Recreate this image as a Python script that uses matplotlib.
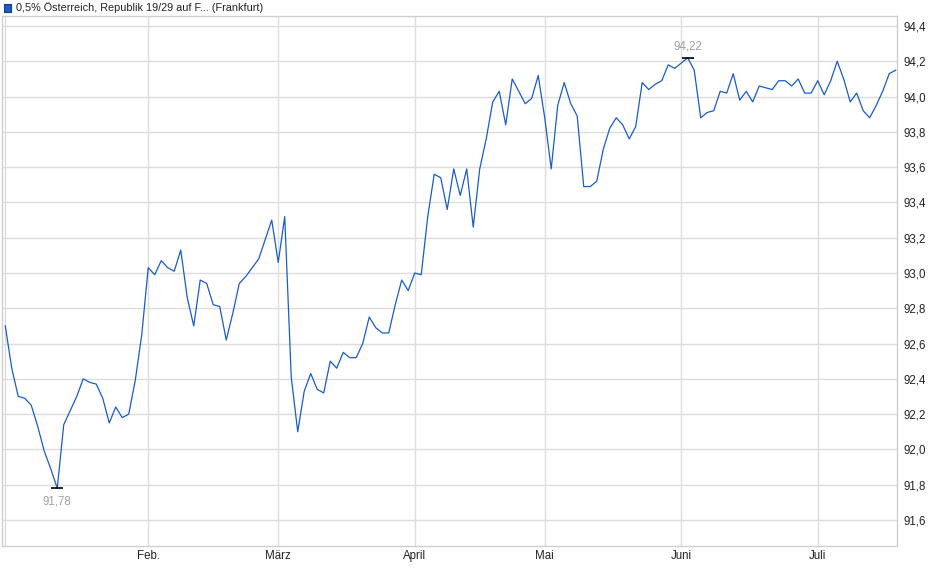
import numpy as np
import matplotlib
matplotlib.use("Agg")
import matplotlib.pyplot as plt
from matplotlib.ticker import FuncFormatter, FixedLocator

plt.rcParams['font.family'] = ['Liberation Sans', 'DejaVu Sans']

title = "0,5% Österreich, Republik 19/29 auf F... (Frankfurt)"

# closing prices per trading day, Jan - Jul
jan = [92.70, 92.46, 92.30, 92.29, 92.25, 92.13, 91.99, 91.89, 91.78, 92.14, 92.22,
       92.30, 92.40, 92.38, 92.37, 92.29, 92.15, 92.24, 92.18, 92.20, 92.39, 92.65]
feb = [93.03, 92.99, 93.07, 93.03, 93.01, 93.13, 92.86, 92.70, 92.96, 92.94,
       92.82, 92.81, 92.62, 92.77, 92.94, 92.98, 93.03, 93.08, 93.19, 93.30]
mar = [93.06, 93.32, 92.41, 92.10, 92.33, 92.43, 92.34, 92.32, 92.50, 92.46, 92.55,
       92.52, 92.52, 92.60, 92.75, 92.69, 92.66, 92.66, 92.82, 92.96, 92.90]
apr = [93.00, 92.99, 93.32, 93.56, 93.54, 93.36, 93.59, 93.44, 93.59, 93.26,
       93.59, 93.76, 93.97, 94.03, 93.84, 94.10, 94.03, 93.96, 93.99, 94.12]
may = [93.88, 93.59, 93.95, 94.08, 93.96, 93.89, 93.49, 93.49, 93.52, 93.70, 93.82,
       93.88, 93.84, 93.76, 93.83, 94.08, 94.04, 94.07, 94.09, 94.18, 94.16]
jun = [94.19, 94.22, 94.15, 93.88, 93.91, 93.92, 94.03, 94.02, 94.13, 93.98, 94.03,
       93.97, 94.06, 94.05, 94.04, 94.09, 94.09, 94.06, 94.10, 94.02, 94.02]
jul = [94.09, 94.01, 94.09, 94.20, 94.10, 93.97, 94.02, 93.92, 93.88, 93.95,
       94.03, 94.13, 94.15]

months = [jan, feb, mar, apr, may, jun, jul]
month_labels = ["", "Feb.", "März", "April", "Mai", "Juni", "Juli"]
y_ticks = [91.6, 91.8, 92.0, 92.2, 92.4, 92.6, 92.8, 93.0, 93.2, 93.4, 93.6, 93.8, 94.0, 94.2, 94.4]

prices = np.concatenate([np.array(m) for m in months])
x = np.arange(len(prices))
month_starts = np.concatenate([[0], np.cumsum([len(m) for m in months])[:-1]])

fig = plt.figure(figsize=(9.4, 5.79), dpi=100)
ax = fig.add_axes([2 / 940, (579 - 545.5) / 579, 895 / 940, (545.5 - 16) / 579])

grid_c = "#dcdcdc"
ax.plot(x, prices, color="#1a5cc8", lw=0.9, zorder=3)

ax.set_xlim(-0.5, len(prices) - 0.8)
ax.set_ylim(91.455, 94.457)

ax.xaxis.set_major_locator(FixedLocator(month_starts))
ax.set_xticklabels(month_labels)
ax.yaxis.set_major_locator(FixedLocator(y_ticks))
ax.yaxis.set_major_formatter(FuncFormatter(lambda v, p: f"{v:.1f}".replace(".", ",")))
ax.yaxis.tick_right()
ax.tick_params(axis="both", length=0, labelsize=8.3, colors="#222222")
ax.tick_params(axis="y", pad=5)
ax.tick_params(axis="x", pad=3)
ax.grid(True, color=grid_c, lw=1.0)
ax.set_axisbelow(True)
for s in ax.spines.values():
    s.set_color("#cfcfcf")
    s.set_linewidth(1.0)

# min / max markers
i_min = int(np.argmin(prices))
i_max = int(np.argmax(prices))
lab_c = "#a59f97"
for i, dy, va in [(i_min, -5, "top"), (i_max, 4, "bottom")]:
    ax.plot(x[i], prices[i], marker="_", ms=9, mew=1.2, color="black", zorder=4)
    ax.annotate(f"{prices[i]:.2f}".replace(".", ","), (x[i], prices[i]),
                xytext=(0, dy), textcoords="offset points", ha="center", va=va,
                fontsize=8.3, color=lab_c)

# legend-like title
fig.patches.append(plt.Rectangle((4 / 940, 1 - 12 / 579), 7 / 940, 8 / 579,
                                 transform=fig.transFigure, facecolor="#1a5cc8",
                                 edgecolor="#1a3a80", lw=0.8))
fig.text(16 / 940, 1 - 7.5 / 579, title, fontsize=7.85, va="center", ha="left", color="#222222")

fig.savefig("out.png", dpi=100)
